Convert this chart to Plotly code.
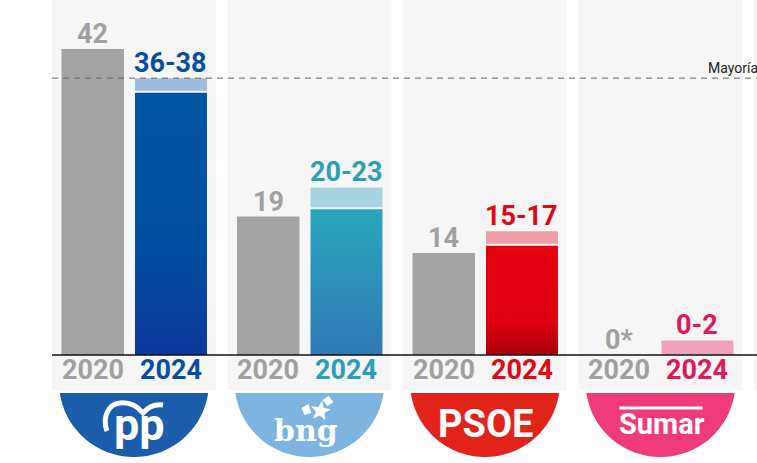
import numpy as np
import plotly.graph_objects as go

# ---------------- data ----------------
parties = ["PP", "BNG", "PSOE", "Sumar"]
seats_2020 = [42, 19, 14, 0]
low_2024 = [36, 20, 15, 0]
high_2024 = [38, 23, 17, 2]
labels_2020 = ["42", "19", "14", "0*"]
labels_2024 = ["36-38", "20-23", "15-17", "0-2"]
years = ["2020", "2024"]
majority = 38
majority_label = "Mayoría"

# ---------------- style ----------------
dark_scales = [
    [[0, "#0b379a"], [0.45, "#004fa2"], [1, "#0055a4"]],
    [[0, "#3079b7"], [1, "#2aa6bc"]],
    [[0, "#a8000d"], [0.32, "#df0010"], [1, "#e5000f"]],
    [[0, "#e0195a"], [1, "#e0195a"]],
]
light_colors = ["#9fbcdd", "#a8d4e1", "#f19ea7", "#f0a2bd"]
label_colors = ["#0a4f9e", "#2a9fb8", "#e30613", "#e0195a"]
logo_colors = ["#1b5cab", "#7db5e0", "#e2231a", "#ef3b7c"]
gray = "#a3a3a3"
gray_txt = "#a0a0a0"
panel_color = "#f6f6f6"

W, H = 757, 463
X0, XS = 134.0, 175.5   # pixel centre of first group, pixels per group
Y0, YS = 355.0, 7.286   # baseline pixel, pixels per seat


def dx(px):
    return (px - X0) / XS


def dy(py):
    return (Y0 - py) / YS


off20, w20 = -0.413, 0.356
off24, w24 = 0.0057, 0.41
c20 = off20 + w20 / 2
c24 = off24 + w24 / 2
idx = list(range(len(parties)))

fig = go.Figure()

# 2020 bars
fig.add_trace(go.Bar(x=idx, y=seats_2020, offset=off20, width=w20,
                     marker=dict(color=gray, line=dict(width=0)),
                     hoverinfo="skip", showlegend=False))

# 2024 range (light) bars
gap = 0.27
bases = [(l + gap) if l > 0 else 0 for l in low_2024]
fig.add_trace(go.Bar(x=idx, y=[h - b for h, b in zip(high_2024, bases)], base=bases,
                     offset=off24, width=w24,
                     marker=dict(color=light_colors, line=dict(width=0)),
                     hoverinfo="skip", showlegend=False))

# 2024 low (dark, gradient) bars
for i, l in enumerate(low_2024):
    if l <= 0:
        continue
    xa, xb = i + off24, i + off24 + w24
    fig.add_trace(go.Scatter(x=[xa, xb, xb, xa, xa], y=[0, 0, l, l, 0], mode="lines",
                             line=dict(width=0), fill="toself",
                             fillcolor=dark_scales[i][-1][1],
                             fillgradient=dict(type="vertical", colorscale=dark_scales[i]),
                             hoverinfo="skip", showlegend=False))

shapes = []
# panels
for i in list(idx) + [4]:
    shapes.append(dict(type="rect", xref="x", yref="y", x0=i - 0.467, x1=i + 0.467,
                       y0=dy(390), y1=dy(-5), fillcolor=panel_color, line=dict(width=0),
                       layer="below"))
# baseline
shapes.append(dict(type="line", xref="x", yref="y", x0=dx(52), x1=dx(760), y0=0, y1=0,
                   line=dict(color="#111111", width=1.5), layer="above"))
# majority line
shapes.append(dict(type="line", xref="x", yref="y", x0=dx(52), x1=dx(760), y0=majority,
                   y1=majority, line=dict(color="#666666", width=1, dash="6px,5px"),
                   layer="above"))


def path_from_px(pts, close=True):
    s = "M " + " L ".join(f"{dx(p[0]):.5f},{dy(p[1]):.5f}" for p in pts)
    return s + (" Z" if close else "")


# logo badges
for i in idx:
    cx = X0 + XS * i
    cy, r, top = 382.0, 75.0, 393.0
    a0 = np.arcsin((top - cy) / r)
    angs = np.linspace(a0, np.pi - a0, 60)
    pts = [(cx + r * np.cos(a), cy + r * np.sin(a)) for a in angs]
    shapes.append(dict(type="path", xref="x", yref="y", path=path_from_px(pts),
                       fillcolor=logo_colors[i], line=dict(width=0), layer="above"))


def bez_px(segs):
    s = f"M {dx(segs[0][0]):.5f},{dy(segs[0][1]):.5f}"
    for seg in segs[1:]:
        s += " C " + " ".join(f"{dx(seg[k]):.5f},{dy(seg[k+1]):.5f}" for k in (0, 2, 4))
    return s


# PP arc (seagull)
shapes.append(dict(type="path", xref="x", yref="y",
                   path=bez_px([(107, 431), (102, 418, 108, 404, 120, 403),
                                (130, 402, 138, 407, 143, 413),
                                (149, 406, 155, 404, 163, 405)]),
                   line=dict(color="white", width=5), layer="above"))

# BNG emblem (star + pieces)
bx = X0 + XS
star = []
for k in range(10):
    rr = 10.5 if k % 2 == 0 else 4.5
    a = -np.pi / 2 + k * np.pi / 5 + 0.15
    star.append((bx + 11 + rr * np.cos(a), 411 + rr * np.sin(a)))
shapes.append(dict(type="path", xref="x", yref="y", path=path_from_px(star),
                   fillcolor="white", line=dict(width=0), layer="above"))
shapes.append(dict(type="path", xref="x", yref="y",
                   path=path_from_px([(bx + 13, 400), (bx + 19, 396), (bx + 24, 402), (bx + 18, 406)]),
                   fillcolor="white", line=dict(width=0), layer="above"))
shapes.append(dict(type="path", xref="x", yref="y",
                   path=path_from_px([(bx - 8, 408), (bx - 1, 404), (bx + 2, 413), (bx - 5, 415)]),
                   fillcolor="white", line=dict(width=0), layer="above"))

# Sumar line
cxs = X0 + XS * 3
shapes.append(dict(type="line", xref="x", yref="y", x0=dx(cxs - 41), x1=dx(cxs + 42),
                   y0=dy(408), y1=dy(408), line=dict(color="white", width=3), layer="above"))

annotations = []
num_font = "Roboto"
for i in idx:
    annotations.append(dict(x=i + c20, y=seats_2020[i], xref="x", yref="y",
                            text=f"<b>{labels_2020[i]}</b>", showarrow=False,
                            yanchor="bottom", yshift=-3,
                            font=dict(family=num_font, size=27, color=gray_txt)))
    annotations.append(dict(x=i + c24, y=high_2024[i], xref="x", yref="y",
                            text=f"<b>{labels_2024[i]}</b>", showarrow=False,
                            yanchor="bottom", yshift=-3,
                            font=dict(family=num_font, size=27, color=label_colors[i])))
    annotations.append(dict(x=i + c20, y=dy(370), xref="x", yref="y",
                            text=f"<b>{years[0]}</b>", showarrow=False, yanchor="middle",
                            font=dict(family=num_font, size=27, color=gray_txt)))
    annotations.append(dict(x=i + c24, y=dy(370), xref="x", yref="y",
                            text=f"<b>{years[1]}</b>", showarrow=False, yanchor="middle",
                            font=dict(family=num_font, size=27, color=label_colors[i])))

annotations.append(dict(x=dx(706), y=dy(68), xref="x", yref="y", text=majority_label,
                        showarrow=False, xanchor="left", yanchor="middle",
                        font=dict(family="Roboto", size=14, color="#222222")))

# logo texts (x offset px, font, size, y px)
logo_texts = [
    ("<b>pp</b>", 5, "Roboto", 45, 424),
    ("<b>bng</b>", -4, "DejaVu Serif", 30, 430),
    ("<b>PSOE</b>", 0, "Liberation Sans Narrow, Roboto", 38, 424),
    ("<b>Sumar</b>", 1, "Roboto", 29, 424),
]
for i, (t, ox, fam, sz, py) in enumerate(logo_texts):
    annotations.append(dict(x=i + ox / XS, y=dy(py), xref="x", yref="y", text=t,
                            showarrow=False, yanchor="middle",
                            font=dict(family=fam, size=sz, color="white")))

fig.update_layout(
    width=W, height=H, margin=dict(l=0, r=0, t=0, b=0),
    paper_bgcolor="white", plot_bgcolor="white",
    barmode="overlay", showlegend=False,
    xaxis=dict(range=[dx(0), dx(W)], visible=False, fixedrange=True),
    yaxis=dict(range=[dy(H), dy(0)], visible=False, fixedrange=True),
    shapes=shapes, annotations=annotations,
)

fig.write_html("out.html", config={"displayModeBar": False},
               post_script="document.body.style.margin='0';document.body.style.overflow='hidden';")
